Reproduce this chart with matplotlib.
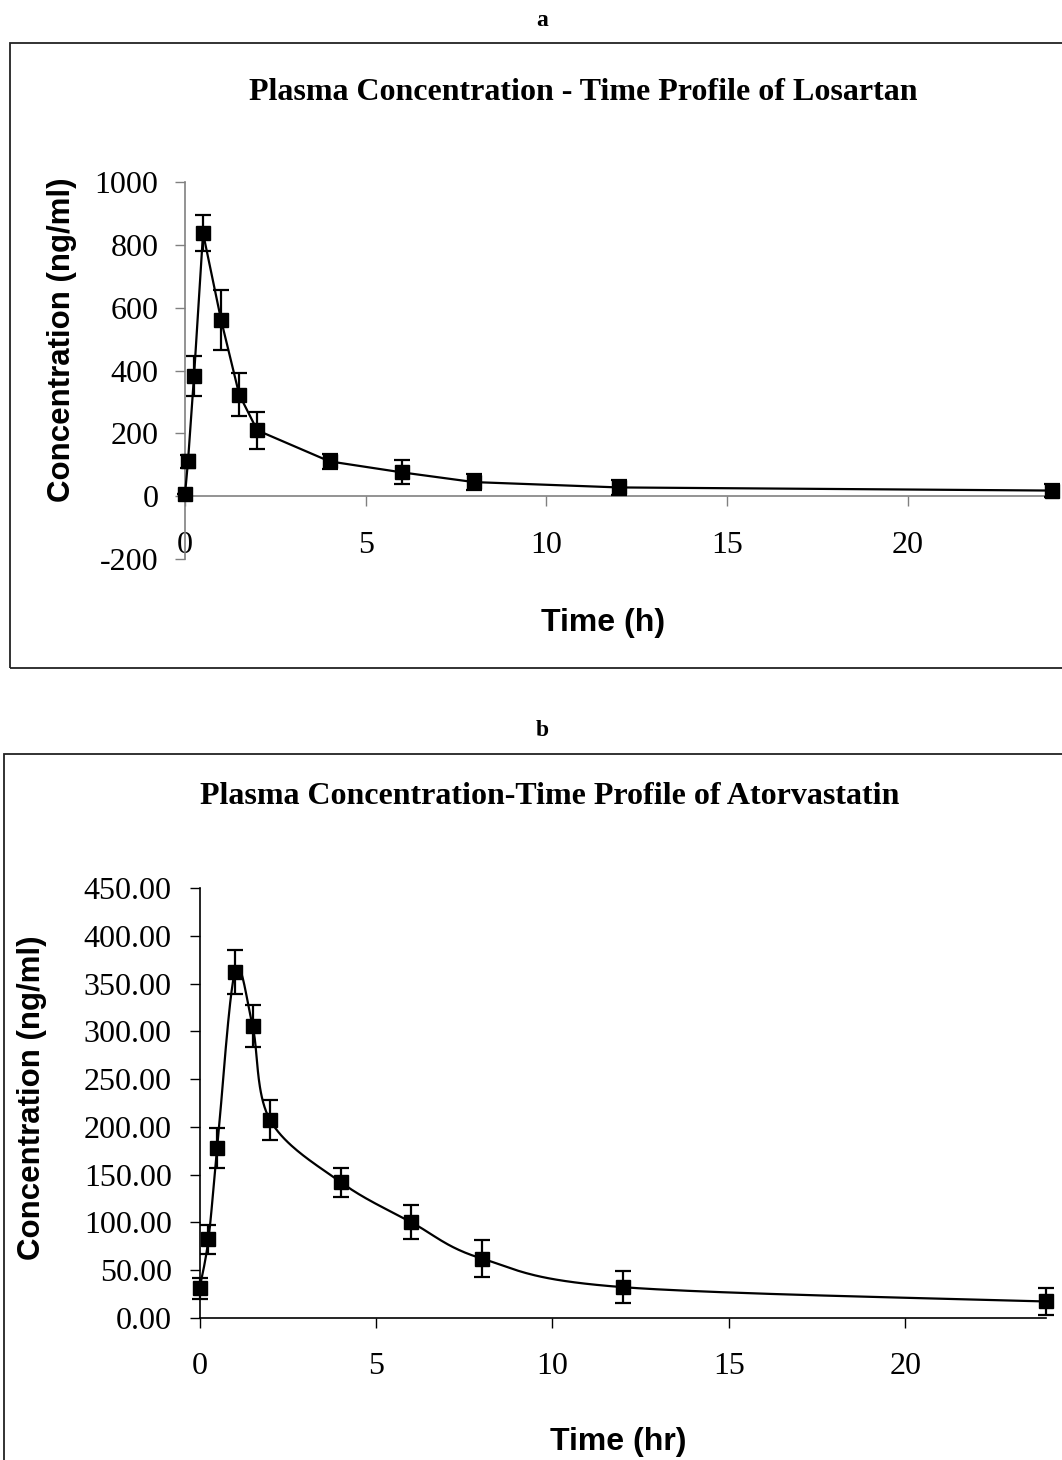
import numpy as np
import matplotlib
matplotlib.use("Agg")
import matplotlib.pyplot as plt
from matplotlib.patches import Rectangle
from matplotlib.ticker import FuncFormatter

plt.rcParams['axes.unicode_minus'] = False

# panel a - losartan
time_a = [0, 0.083, 0.25, 0.5, 1, 1.5, 2, 4, 6, 8, 12, 24]
conc_a = [6, 111, 383, 838, 561, 324, 210, 111, 76, 45, 28, 18]
err_a = [0, 20, 63, 57, 95, 68, 59, 23, 38, 26, 23, 22]
yticks_a = [-200, 0, 200, 400, 600, 800, 1000]

# panel b - atorvastatin
time_b = [0, 0.25, 0.5, 1, 1.5, 2, 4, 6, 8, 12, 24]
conc_b = [31, 82, 178, 362, 306, 207, 142, 100, 62, 32, 17]
err_b = [11, 15, 21, 23, 22, 21, 15, 18, 19, 17, 14]
yticks_b = [0, 50, 100, 150, 200, 250, 300, 350, 400, 450]

xticks = [0, 5, 10, 15, 20]

SERIF = 'Liberation Serif'
SANS = 'Liberation Sans'
W, H = 1062, 1460


def fx(px):
    return px / W


def fy(py):
    return 1 - py / H


def smooth(ax, x, y, n=40):
    # excel style bezier smoothing, done in screen space
    P = ax.transData.transform(np.column_stack([x, y]))
    P = np.vstack([P[0], P, P[-1]])
    segs = []
    t = np.linspace(0, 1, n)[:, None]
    for i in range(1, len(P) - 2):
        p0, p1, p2, p3 = P[i - 1], P[i], P[i + 1], P[i + 2]
        c1 = p1 + (p2 - p0) / 6
        c2 = p2 - (p3 - p1) / 6
        segs.append((1 - t) ** 3 * p1 + 3 * (1 - t) ** 2 * t * c1
                    + 3 * (1 - t) * t ** 2 * c2 + t ** 3 * p2)
    return ax.transData.inverted().transform(np.vstack(segs))


def style_axes(ax, color, ylab_pad):
    for s in ['top', 'right']:
        ax.spines[s].set_visible(False)
    for s in ['left', 'bottom']:
        ax.spines[s].set_color(color)
        ax.spines[s].set_linewidth(1.2)
    ax.tick_params(axis='both', direction='out', length=7, width=1.0,
                   color=color, labelsize=23)
    ax.tick_params(axis='x', pad=18)
    ax.tick_params(axis='y', pad=ylab_pad)
    for lab in ax.get_xticklabels() + ax.get_yticklabels():
        lab.set_fontfamily(SERIF)
    ax.set_xticks(xticks)
    ax.set_xlim(0, 24)


fig = plt.figure(figsize=(W / 100, H / 100), dpi=100)

# frames round each chart
fig.patches.append(Rectangle((fx(9.5), fy(668)), 1.2, fy(43) - fy(668),
                             transform=fig.transFigure, fill=False,
                             edgecolor='#222222', linewidth=1.3))
fig.patches.append(Rectangle((fx(3.5), fy(1500)), 1.2, fy(754) - fy(1500),
                             transform=fig.transFigure, fill=False,
                             edgecolor='#222222', linewidth=1.3))

# ---- panel a ----
axa = fig.add_axes([fx(185), fy(559), fx(1052) - fx(185), fy(182.3) - fy(559)])
axa.set_ylim(-200, 1000)
axa.set_yticks(yticks_a)
axa.yaxis.set_major_formatter(FuncFormatter(lambda v, p: str(int(v))))
axa.spines['bottom'].set_position(('data', 0))
style_axes(axa, '#808080', 12)
axa.errorbar(time_a, conc_a, yerr=err_a, fmt='-', color='black', lw=1.6,
             ecolor='black', elinewidth=1.6, capsize=5.5, capthick=1.6,
             clip_on=False, zorder=3)
axa.plot(time_a, conc_a, 's', color='black', ms=9.5, clip_on=False, zorder=4)

fig.text(fx(542), fy(20), 'a', ha='center', va='center', family=SERIF,
         fontweight='bold', fontsize=17)
fig.text(fx(583), fy(93), 'Plasma Concentration - Time Profile of Losartan',
         ha='center', va='center', family=SERIF, fontweight='bold', fontsize=23)
fig.text(fx(62), fy(340), 'Concentration (ng/ml)', rotation=90, ha='center',
         va='center', family=SANS, fontweight='bold', fontsize=22.5)
fig.text(fx(603), fy(623), 'Time (h)', ha='center', va='center', family=SANS,
         fontweight='bold', fontsize=23)

# ---- panel b ----
axb = fig.add_axes([fx(199.6), fy(1317.7), fx(1046.3) - fx(199.6),
                    fy(888.3) - fy(1317.7)])
axb.set_ylim(0, 450)
axb.set_yticks(yticks_b)
axb.yaxis.set_major_formatter(FuncFormatter(lambda v, p: '%.2f' % v))
style_axes(axb, 'black', 13)
curve = smooth(axb, time_b, conc_b)
axb.plot(curve[:, 0], curve[:, 1], '-', color='black', lw=1.6, clip_on=False)
axb.errorbar(time_b, conc_b, yerr=err_b, fmt='none', ecolor='black',
             elinewidth=1.6, capsize=5.5, capthick=1.6, clip_on=False, zorder=3)
axb.plot(time_b, conc_b, 's', color='black', ms=9.5, clip_on=False, zorder=4)

fig.text(fx(542), fy(730), 'b', ha='center', va='center', family=SERIF,
         fontweight='bold', fontsize=17)
fig.text(fx(550), fy(797), 'Plasma Concentration-Time Profile of Atorvastatin',
         ha='center', va='center', family=SERIF, fontweight='bold', fontsize=23)
fig.text(fx(32), fy(1098), 'Concentration (ng/ml)', rotation=90, ha='center',
         va='center', family=SANS, fontweight='bold', fontsize=22.5)
fig.text(fx(618), fy(1442), 'Time (hr)', ha='center', va='center', family=SANS,
         fontweight='bold', fontsize=23)

fig.savefig('out.png', dpi=100)
